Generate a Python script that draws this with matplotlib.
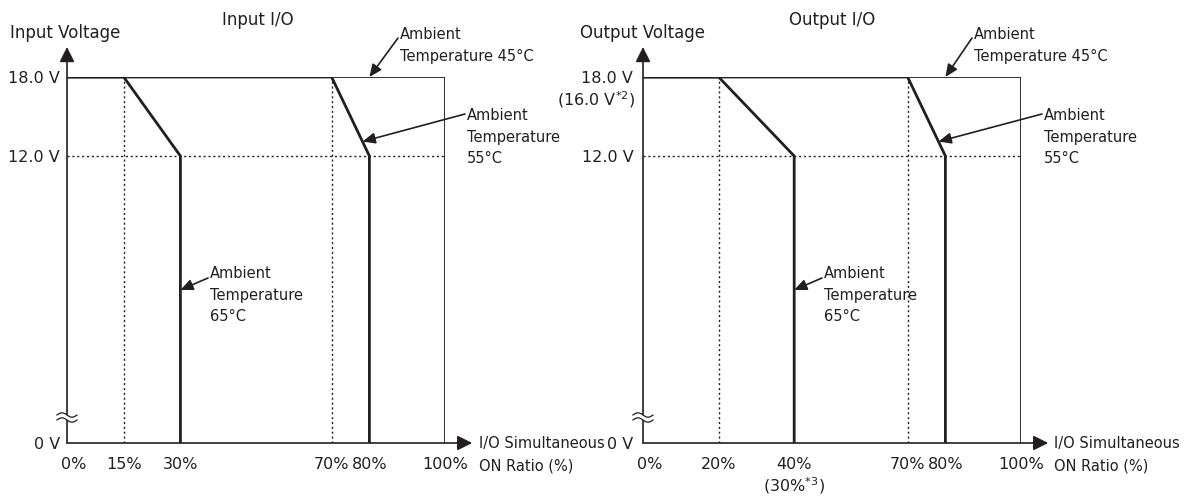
import numpy as np
import matplotlib
matplotlib.use('Agg')
import matplotlib.pyplot as plt
import matplotlib.transforms as mtransforms

plt.rcParams['font.family'] = 'DejaVu Sans'
plt.rcParams['font.size'] = 11.5
plt.rcParams['mathtext.default'] = 'regular'

ink = '#231f20'
W, H = 1186, 500

# voltage levels on the y axis
volt_ticks = [0, 12, 18]
volt_labels = ['0 V', '12.0 V', '18.0 V']

# Input I/O panel
in_ticks = [0, 15, 30, 70, 80, 100]
in_ticklabels = ['0%', '15%', '30%', '70%', '80%', '100%']
in_45_x = [0, 100, 100]
in_45_y = [18, 18, 0]
in_55_x = [0, 70, 80, 80]
in_55_y = [18, 18, 12, 0]
in_65_x = [0, 15, 30, 30]
in_65_y = [18, 18, 12, 0]
in_guides = [15, 70]

# Output I/O panel
out_ticks = [0, 20, 40, 70, 80, 100]
out_ticklabels = ['0%', '20%', '40%\n(30%$^{*3}$)', '70%', '80%', '100%']
out_45_x = [0, 100, 100]
out_45_y = [18, 18, 0]
out_55_x = [0, 70, 80, 80]
out_55_y = [18, 18, 12, 0]
out_65_x = [0, 20, 40, 40]
out_65_y = [18, 18, 12, 0]
out_guides = [20, 70]


# the y axis is broken below 12 V, so map volts piecewise
def fwd(v):
    return np.interp(v, [0, 12, 18], [0, 287, 366])


def inv(p):
    return np.interp(p, [0, 287, 366], [0, 12, 18])


def fig_xy(x, y):
    # image pixel (top-left origin) -> figure fraction
    return x / W, 1 - y / H


fig = plt.figure(figsize=(W / 100, H / 100), dpi=100)
ax1 = fig.add_axes([67 / W, 57 / H, 378 / W, 366 / H])
ax2 = fig.add_axes([643 / W, 57 / H, 378 / W, 366 / H])

small_head = '-|>,head_length=0.5,head_width=0.22'
axis_head = '-|>,head_length=0.6,head_width=0.3'


def panel(ax, c45x, c45y, c55x, c55y, c65x, c65y, guides, ticks, ticklabels, ypad):
    ax.set_yscale('function', functions=(fwd, inv))
    ax.set_xlim(0, 100)
    ax.set_ylim(0, 18)
    for s in ax.spines.values():
        s.set_visible(False)
    ax.set_xticks(ticks, ticklabels)
    ax.set_yticks(volt_ticks, volt_labels)
    ax.tick_params(axis='x', length=0, pad=10, colors=ink)
    ax.tick_params(axis='y', length=0, pad=ypad, colors=ink)
    ax.tick_params(which='minor', length=0)
    ax.set_facecolor('none')

    # guide lines
    for g in guides:
        ax.plot([g, g], [0, 18], color=ink, lw=1, ls=(0, (1.5, 2)), zorder=1)
    ax.plot([0, 100], [12, 12], color=ink, lw=1, ls=(0, (1.5, 2)), zorder=1)

    # derating curves
    ax.plot(c45x, c45y, color=ink, lw=1.3, zorder=3, solid_joinstyle='miter')
    ax.plot(c55x, c55y, color=ink, lw=2.0, zorder=4, solid_joinstyle='miter')
    ax.plot(c65x, c65y, color=ink, lw=2.0, zorder=4, solid_joinstyle='miter')

    # axes with arrow heads
    ax.annotate('', xy=(0, 1.082), xytext=(0, 0), xycoords='axes fraction',
                arrowprops=dict(arrowstyle=axis_head, mutation_scale=15, lw=1.2,
                                color=ink, shrinkA=0, shrinkB=0), zorder=2)
    ax.annotate('', xy=(1.072, 0), xytext=(0, 0), xycoords='axes fraction',
                arrowprops=dict(arrowstyle=axis_head, mutation_scale=15, lw=1.2,
                                color=ink, shrinkA=0, shrinkB=0), zorder=2)

    # nudge the 0% label off the axis
    lab = ax.get_xticklabels()[0]
    lab.set_transform(lab.get_transform() +
                      mtransforms.ScaledTranslation(0.07, 0, fig.dpi_scale_trans))


panel(ax1, in_45_x, in_45_y, in_55_x, in_55_y, in_65_x, in_65_y,
      in_guides, in_ticks, in_ticklabels, 5)
panel(ax2, out_45_x, out_45_y, out_55_x, out_55_y, out_65_x, out_65_y,
      out_guides, out_ticks, out_ticklabels, 7)


def note(ax, xy, tail, text_pos, text):
    ax.annotate('', xy=xy, xycoords='data', xytext=fig_xy(*tail),
                textcoords='figure fraction',
                arrowprops=dict(arrowstyle=small_head, mutation_scale=15, lw=1.2,
                                color=ink, shrinkA=0, shrinkB=0), zorder=6)
    x, y = fig_xy(*text_pos)
    fig.text(x, y, text, ha='left', va='top', color=ink, fontsize=10.5,
             linespacing=1.55)


note(ax1, (80, 18), (398, 38), (400, 27), 'Ambient\nTemperature 45°C')
note(ax1, (78.2, 13.1), (465, 114), (467, 108), 'Ambient\nTemperature\n55°C')
note(ax1, (30, 6.4), (208, 278), (210, 266), 'Ambient\nTemperature\n65°C')
note(ax2, (80, 18), (972, 38), (974, 27), 'Ambient\nTemperature 45°C')
note(ax2, (78.2, 13.1), (1042, 114), (1044, 108), 'Ambient\nTemperature\n55°C')
note(ax2, (40, 6.4), (822, 278), (824, 266), 'Ambient\nTemperature\n65°C')

# titles and axis names
for txt, x, y, ha, fs in [('Input I/O', 258, 20, 'center', 12),
                          ('Output I/O', 832, 20, 'center', 12),
                          ('Input Voltage', 10, 33, 'left', 12),
                          ('Output Voltage', 580, 33, 'left', 12),
                          ('(16.0 V$^{*2}$)', 635, 100, 'right', 11.5)]:
    fx, fy = fig_xy(x, y)
    fig.text(fx, fy, txt, ha=ha, va='center', color=ink, fontsize=fs)

for x in (479, 1054):
    fx, fy = fig_xy(x, 436)
    fig.text(fx, fy, 'I/O Simultaneous\nON Ratio (%)', ha='left', va='top',
             color=ink, fontsize=10.5, linespacing=1.6)

# axis break marks on the y axes
t = np.linspace(0, 1, 40)
for x0 in (67, 643):
    xs = x0 - 10 + 20 * t
    y_top = 415 - 2.2 * np.sin(2 * np.pi * t)
    y_bot = y_top + 5
    fx = xs / W
    fig.patches.append(plt.Polygon(
        np.column_stack([np.r_[fx, fx[::-1]],
                         np.r_[1 - y_top / H, (1 - y_bot / H)[::-1]]]),
        closed=True, facecolor='white', edgecolor='none',
        transform=fig.transFigure, zorder=5))
    for yy in (y_top, y_bot):
        fig.lines.append(plt.Line2D(fx, 1 - yy / H, color=ink, lw=0.9,
                                    transform=fig.transFigure, zorder=6))

fig.savefig('out.png', dpi=100)
